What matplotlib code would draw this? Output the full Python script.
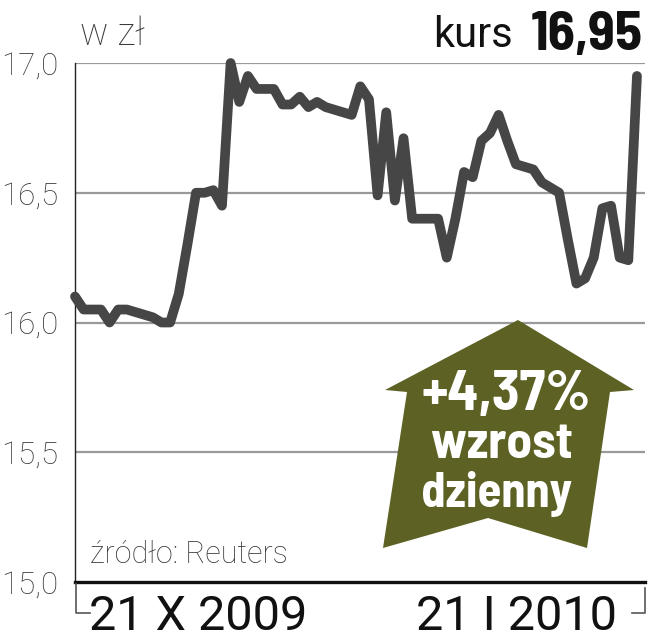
import numpy as np
import matplotlib
matplotlib.use("Agg")
import matplotlib.pyplot as plt
from matplotlib.patches import Polygon
from matplotlib.lines import Line2D

plt.rcParams['font.family'] = ['Roboto', 'DejaVu Sans']
din = ['Barlow Semi Condensed', 'Roboto Condensed', 'DejaVu Sans']

# kurs dzienny, 21 X 2009 - 21 I 2010 (sesje)
days = np.arange(66)
price = [16.10, 16.05, 16.05, 16.05, 16.00, 16.05, 16.05, 16.04, 16.03, 16.02,
         16.00, 16.00, 16.11, 16.30, 16.50, 16.50, 16.51, 16.45, 17.00, 16.85,
         16.95, 16.90, 16.90, 16.90, 16.84, 16.84, 16.87, 16.83, 16.85, 16.83,
         16.82, 16.81, 16.80, 16.91, 16.86, 16.49, 16.81, 16.47, 16.71, 16.40,
         16.40, 16.40, 16.40, 16.25, 16.40, 16.58, 16.56, 16.70, 16.73, 16.80,
         16.70, 16.61, 16.60, 16.59, 16.54, 16.52, 16.50, 16.32, 16.15, 16.17,
         16.25, 16.44, 16.45, 16.25, 16.24, 16.95]
yticks = [15.0, 15.5, 16.0, 16.5, 17.0]
ytick_labels = ["15,0", "15,5", "16,0", "16,5", "17,0"]
date_labels = ["21 X 2009", "21 I 2010"]

W, H = 648, 640
fig = plt.figure(figsize=(W / 100, H / 100), dpi=100)

def fx(px):
    return px / W

def fy(py):
    return 1 - py / H

ax = fig.add_axes([fx(75), fy(582), fx(645 - 75), (582 - 63) / H])
ax.set_xlim(0, 65.93)
ax.set_ylim(15.0, 17.0)

for v in yticks[1:]:
    ax.axhline(v, color='#9a9a9a', lw=1.6, zorder=1)

ax.plot(days, price, color='#464646', lw=7.0, solid_joinstyle='round',
        solid_capstyle='round', clip_on=False, zorder=3)

for s in ['top', 'right']:
    ax.spines[s].set_visible(False)
ax.spines['bottom'].set_linewidth(2.4)
ax.spines['bottom'].set_color('#111111')
ax.spines['left'].set_linewidth(1.0)
ax.spines['left'].set_color('#222222')
ax.set_xticks([])
ax.set_yticks(yticks)
ax.set_yticklabels(ytick_labels, fontsize=22.5, color='#3a3a3a', fontweight='light')
ax.tick_params(axis='y', length=0, pad=12)

# date bracket under the axis
br = '#555555'
fig.add_artist(Line2D([fx(76), fx(76), fx(90)], [fy(584), fy(613), fy(613)],
                      color=br, lw=1.2))
fig.add_artist(Line2D([fx(632), fx(645), fx(645)], [fy(613), fy(613), fy(588)],
                      color=br, lw=1.2))
fig.text(fx(89), fy(630), date_labels[0], fontsize=35, color='#111111',
         ha='left', va='baseline')
fig.text(fx(617), fy(630), date_labels[1], fontsize=35, color='#111111',
         ha='right', va='baseline')

# titles
fig.text(fx(80), fy(45), "w zł", fontsize=27, color='#3a3a3a', fontweight='light',
         ha='left', va='baseline')
fig.text(fx(513), fy(47), "kurs", fontsize=30, color='#111111', ha='right', va='baseline')
fig.text(fx(643), fy(50), "16,95", fontsize=40, fontweight='bold', color='#111111',
         family=din, ha='right', va='baseline')
fig.text(fx(90), fy(563), "źródło: Reuters", fontsize=22, color='#3a3a3a',
         fontweight='light', ha='left', va='baseline')

# green arrow
arrow_px = [(518, 320), (634, 390), (610, 392), (587, 548), (488, 518),
            (383, 548), (407, 392), (385, 390)]
arrow = Polygon([(fx(x), fy(y)) for x, y in arrow_px], closed=True,
                facecolor='#5d6224', edgecolor='none', transform=fig.transFigure,
                zorder=5)
fig.add_artist(arrow)
fig.text(fx(506), fy(410), "+4,37%", fontsize=41, fontweight='bold', color='white',
         family=din, ha='center', va='baseline', zorder=6)
fig.text(fx(502), fy(458), "wzrost", fontsize=37, fontweight='bold', color='white',
         family=din, ha='center', va='baseline', zorder=6)
fig.text(fx(497), fy(507), "dzienny", fontsize=35, fontweight='bold', color='white',
         family=din, ha='center', va='baseline', zorder=6)

fig.savefig("out.png", dpi=100)
